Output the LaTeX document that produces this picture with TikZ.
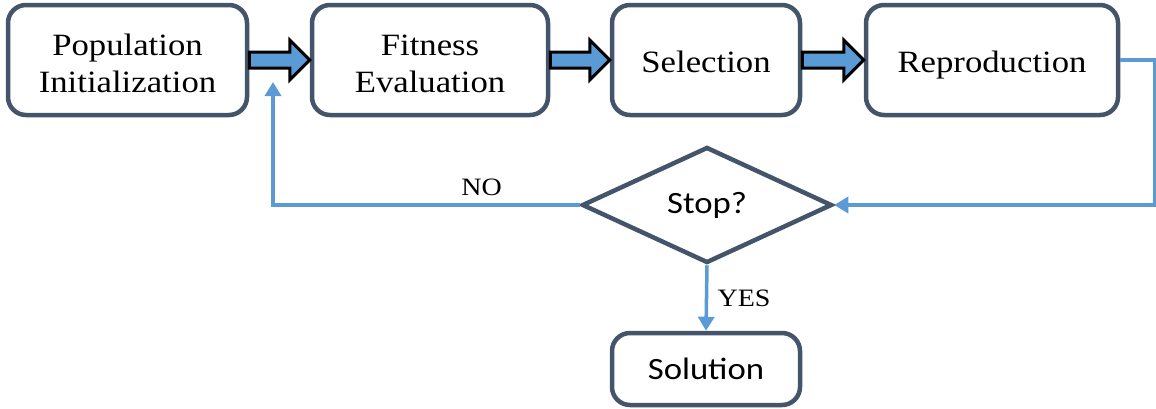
\documentclass[tikz,border=0pt]{standalone}
\usepackage{fontspec}
\setmainfont{Liberation Serif}[FakeStretch=1.12]
\newfontfamily\calfont{Carlito}[FakeStretch=1.12]
\usetikzlibrary{calc,positioning,shapes.geometric,arrows.meta}
\definecolor{boxline}{HTML}{44546A}
\definecolor{flowblue}{HTML}{5B9BD5}
\tikzset{>={Triangle[length=14pt,width=16pt]}}
\tikzset{
  box/.style={draw=boxline,line width=4.5pt,rounded corners=18pt,
    minimum height=110pt,align=center,inner sep=0pt,
    font=\fontsize{31}{37}\selectfont},
  oneline/.style={text height=24pt,text depth=0pt},
  twoline/.style={text height=64pt,text depth=0pt},
  flow/.style={draw=flowblue,line width=3.5pt},
  bigarr/.style={draw=black,line width=3pt,fill=flowblue,line join=miter},
  lab/.style={font=\fontsize{25}{28}\selectfont}
}
\newcommand{\bigarrow}[2]{%
  \draw[bigarr] ($(#1.east)+(0,8)$) -- ($(#2.west)+(-20,8)$)
    -- ($(#2.west)+(-20,20)$) -- (#2.west) -- ($(#2.west)+(-20,-20)$)
    -- ($(#2.west)+(-20,-8)$) -- ($(#1.east)+(0,-8)$) -- cycle;}

\begin{document}
\begin{tikzpicture}[x=1pt,y=1pt]
    \useasboundingbox (0,0) rectangle (1156,-408);
    \node[box,twoline,minimum width=239pt] at (127.5,-60) (pop) {Population\\Initialization};
    \node[box,twoline,minimum width=236pt] at (430,-60) (fit) {Fitness\\Evaluation};
    \node[box,oneline,minimum width=188pt] at (706,-60) (sel) {Selection};
    \node[box,oneline,minimum width=252pt] at (992,-60) (rep) {Reproduction};
    \node[draw=boxline,line width=4.5pt,diamond,aspect=2.16,inner sep=0pt,
      minimum width=250pt,minimum height=116pt,
      font=\calfont\fontsize{31}{36}\selectfont] at (707,-205) (stop) {Stop?};
    \node[box,minimum width=188pt,minimum height=72pt,
      font=\calfont\fontsize{31}{36}\selectfont] at (706,-369) (sol) {Solution};
    \bigarrow{pop}{fit}
    \bigarrow{fit}{sel}
    \bigarrow{sel}{rep}
    \coordinate (back) at (273,-82);
    \draw[flow,->] (rep.east) -- ++(34,0) |- (stop.east);
    \draw[flow,->] (stop.west) -| node[lab,pos=0.16,above=4pt] {NO} (back);
    \draw[flow,->] (stop.south) -- node[lab,right=6pt] {YES} (sol.north);
\end{tikzpicture}
\end{document}
